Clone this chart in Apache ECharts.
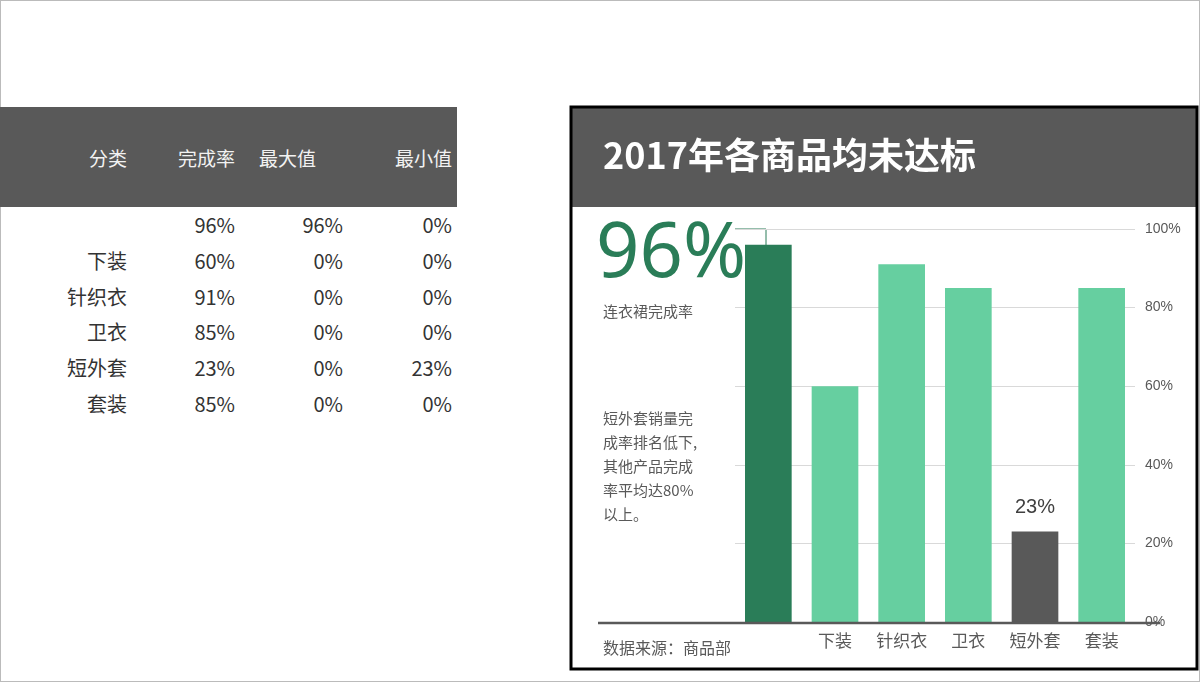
<!DOCTYPE html>
<html><head><meta charset="utf-8">
<script src="https://cdn.jsdelivr.net/npm/echarts@6/dist/echarts.min.js"></script>
<style>
html,body{margin:0;padding:0;width:1200px;height:682px;overflow:hidden;background:#fff;font-family:"Noto Sans CJK SC","Noto Sans",sans-serif;}
#page{position:absolute;left:0;top:0;width:1198px;height:680px;border:1px solid #bbb;}
#tbl{position:absolute;left:0;top:107px;width:457px;}
.hdr{position:absolute;left:0;top:0;width:457px;height:100px;background:#595959;}
.cell{position:absolute;white-space:nowrap;font-size:20px;color:#333;line-height:24px;}
.h{color:#f2f2f2;font-size:19px;}
#chart{position:absolute;left:0;top:0;width:1200px;height:682px;}
</style></head><body>
<div id="page"></div>
<div id="tbl"><div class="hdr"></div></div>
<div id="chart"></div>
<script>
// table data
const tableHeaders=['分类','完成率','最大值','最小值'];
const tableCats=['','下装','针织衣','卫衣','短外套','套装'];
const tableRate=['96%','60%','91%','85%','23%','85%'];
const tableMax=['96%','0%','0%','0%','0%','0%'];
const tableMin=['0%','0%','0%','0%','23%','0%'];
// chart data
const categories=['','下装','针织衣','卫衣','短外套','套装'];
const rates=[96,60,91,85,23,85];
const yTicks=[0,20,40,60,80,100];

const tbl=document.getElementById('tbl');
function cell(txt,right,top,cls){const d=document.createElement('div');d.className='cell '+(cls||'');d.textContent=txt;d.style.right=(457-right)+'px';d.style.top=top+'px';tbl.appendChild(d);}
const hRights=[127,235,316,452];
tableHeaders.forEach((t,i)=>cell(t,hRights[i],39,'h'));
tableCats.forEach((c,i)=>{const top=106+i*35.8;cell(c,127,top);cell(tableRate[i],235,top);cell(tableMax[i],343,top);cell(tableMin[i],452,top);});

const colors=['#2a7d58','#66cfa0','#66cfa0','#66cfa0','#595959','#66cfa0'];
const chart=echarts.init(document.getElementById('chart'));
chart.setOption({
  animation:false,
  grid:{left:735,right:65,top:229,bottom:60},
  xAxis:{type:'category',data:categories,axisLine:{show:false},axisTick:{show:false},
    axisLabel:{color:'#595959',fontSize:17,margin:10,fontFamily:'Noto Sans CJK SC'}},
  yAxis:{type:'value',position:'right',min:0,max:100,interval:20,
    axisLabel:{formatter:'{value}%',color:'#595959',fontSize:14,margin:10},
    axisLine:{show:false},axisTick:{show:false},
    splitLine:{lineStyle:{color:'#d9d9d9',width:1}}},
  series:[{type:'bar',data:rates,barWidth:'70%',
    itemStyle:{color:p=>colors[p.dataIndex]},
    label:{show:true,position:'top',distance:14,color:'#404040',fontSize:20,
      formatter:p=>p.dataIndex===4?p.value+'%':''}}],
  graphic:[
    {type:'rect',shape:{x:571,y:107,width:626,height:562},style:{fill:'none',stroke:'#000',lineWidth:3},z:100},
    {type:'rect',shape:{x:572,y:108,width:624,height:99},style:{fill:'#595959'}},
    {type:'text',x:603,y:155,style:{text:'2017年各商品均未达标',fill:'#fff',font:'bold 36px "Noto Sans CJK SC"',textVerticalAlign:'middle'}},
    {type:'line',shape:{x1:598,y1:623,x2:1160,y2:623},style:{stroke:'#595959',lineWidth:2.5},z:50},
    {type:'text',x:596,y:255,style:{text:'96%',fill:'#2a7d58',font:'76px "Noto Sans"',textVerticalAlign:'middle'}},
    {type:'polyline',shape:{points:[[735,229],[766,229],[766,245]]},style:{stroke:'#2a7d58',lineWidth:1,fill:'none'}},
    {type:'text',x:603,y:311,style:{text:'连衣裙完成率',fill:'#595959',font:'15px "Noto Sans CJK SC"',textVerticalAlign:'middle'}},
    {type:'text',x:603,y:406,style:{text:'短外套销量完\n成率排名低下,\n其他产品完成\n率平均达80%\n以上。',fill:'#595959',font:'15px "Noto Sans CJK SC"',lineHeight:24}},
    {type:'text',x:603,y:648,style:{text:'数据来源：商品部',fill:'#595959',font:'16px "Noto Sans CJK SC"',textVerticalAlign:'middle'}}
  ]
});
</script></body></html>
